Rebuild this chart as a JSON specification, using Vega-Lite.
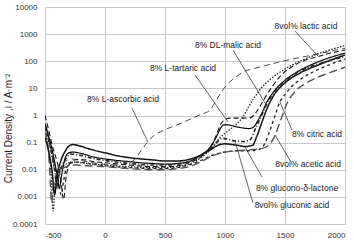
{
"$schema": "https://vega.github.io/schema/vega-lite/v6.json",
"width": 300, "height": 217,
"autosize": {"type": "none"},
"padding": {"left": 45, "top": 7, "right": 9, "bottom": 28},
"background": "white",
"config": {"font": "Liberation Sans", "view": {"stroke": "#a8a8a8", "strokeWidth": 1},
 "axis": {"gridColor": "#c8c8c8", "gridWidth": 1, "domain": false, "ticks": false, "labelFontSize": 8, "labelColor": "#333", "labelFont": "Liberation Sans"}},
"datasets": {
"curves": [
{"s":"asc","x":-500,"y":0.4},{"s":"asc","x":-470,"y":0.15},{"s":"asc","x":-440,"y":0.03},{"s":"asc","x":-415,"y":0.006},{"s":"asc","x":-400,"y":0.002},{"s":"asc","x":-385,"y":0.006},{"s":"asc","x":-360,"y":0.015},{"s":"asc","x":-320,"y":0.022},{"s":"asc","x":-280,"y":0.025},{"s":"asc","x":-200,"y":0.022},{"s":"asc","x":-100,"y":0.018},{"s":"asc","x":0,"y":0.016},{"s":"asc","x":100,"y":0.015},{"s":"asc","x":200,"y":0.018},{"s":"asc","x":250,"y":0.025},{"s":"asc","x":300,"y":0.05},{"s":"asc","x":350,"y":0.1},{"s":"asc","x":400,"y":0.17},{"s":"asc","x":500,"y":0.3},{"s":"asc","x":600,"y":0.45},{"s":"asc","x":700,"y":0.7},{"s":"asc","x":800,"y":1.1},{"s":"asc","x":875,"y":1.6},{"s":"asc","x":925,"y":3.5},{"s":"asc","x":975,"y":8},{"s":"asc","x":1025,"y":15},{"s":"asc","x":1100,"y":28},{"s":"asc","x":1150,"y":40},{"s":"asc","x":1250,"y":55},{"s":"asc","x":1350,"y":72},{"s":"asc","x":1500,"y":105},{"s":"asc","x":1700,"y":160},{"s":"asc","x":1850,"y":220},{"s":"asc","x":2000,"y":300},
{"s":"tar","x":-500,"y":1.0},{"s":"tar","x":-470,"y":0.3},{"s":"tar","x":-440,"y":0.08},{"s":"tar","x":-400,"y":0.02},{"s":"tar","x":-370,"y":0.005},{"s":"tar","x":-345,"y":0.0008},{"s":"tar","x":-325,"y":0.005},{"s":"tar","x":-300,"y":0.015},{"s":"tar","x":-270,"y":0.022},{"s":"tar","x":-200,"y":0.024},{"s":"tar","x":-100,"y":0.02},{"s":"tar","x":0,"y":0.018},{"s":"tar","x":200,"y":0.015},{"s":"tar","x":400,"y":0.013},{"s":"tar","x":500,"y":0.013},{"s":"tar","x":600,"y":0.014},{"s":"tar","x":700,"y":0.018},{"s":"tar","x":800,"y":0.03},{"s":"tar","x":880,"y":0.07},{"s":"tar","x":930,"y":0.2},{"s":"tar","x":960,"y":0.45},{"s":"tar","x":990,"y":0.65},{"s":"tar","x":1020,"y":0.78},{"s":"tar","x":1050,"y":0.8},{"s":"tar","x":1150,"y":0.8},{"s":"tar","x":1210,"y":0.82},{"s":"tar","x":1240,"y":1.0},{"s":"tar","x":1280,"y":1.8},{"s":"tar","x":1350,"y":6},{"s":"tar","x":1450,"y":25},{"s":"tar","x":1600,"y":80},{"s":"tar","x":1800,"y":160},{"s":"tar","x":2000,"y":260},
{"s":"mal","x":-500,"y":0.5},{"s":"mal","x":-460,"y":0.12},{"s":"mal","x":-420,"y":0.02},{"s":"mal","x":-395,"y":0.005},{"s":"mal","x":-380,"y":0.002},{"s":"mal","x":-365,"y":0.005},{"s":"mal","x":-340,"y":0.02},{"s":"mal","x":-310,"y":0.04},{"s":"mal","x":-270,"y":0.045},{"s":"mal","x":-200,"y":0.04},{"s":"mal","x":-100,"y":0.03},{"s":"mal","x":0,"y":0.025},{"s":"mal","x":100,"y":0.022},{"s":"mal","x":200,"y":0.02},{"s":"mal","x":300,"y":0.018},{"s":"mal","x":400,"y":0.017},{"s":"mal","x":500,"y":0.016},{"s":"mal","x":600,"y":0.017},{"s":"mal","x":700,"y":0.02},{"s":"mal","x":800,"y":0.035},{"s":"mal","x":880,"y":0.07},{"s":"mal","x":930,"y":0.17},{"s":"mal","x":965,"y":0.35},{"s":"mal","x":990,"y":0.45},{"s":"mal","x":1020,"y":0.45},{"s":"mal","x":1100,"y":0.38},{"s":"mal","x":1200,"y":0.33},{"s":"mal","x":1240,"y":0.38},{"s":"mal","x":1270,"y":0.6},{"s":"mal","x":1310,"y":1.3},{"s":"mal","x":1350,"y":3.2},{"s":"mal","x":1400,"y":7},{"s":"mal","x":1500,"y":20},{"s":"mal","x":1600,"y":40},{"s":"mal","x":1750,"y":85},{"s":"mal","x":2000,"y":200},
{"s":"lac","x":-500,"y":0.3},{"s":"lac","x":-470,"y":0.05},{"s":"lac","x":-450,"y":0.008},{"s":"lac","x":-432,"y":0.0003},{"s":"lac","x":-415,"y":0.003},{"s":"lac","x":-390,"y":0.008},{"s":"lac","x":-350,"y":0.013},{"s":"lac","x":-300,"y":0.018},{"s":"lac","x":-250,"y":0.019},{"s":"lac","x":-150,"y":0.017},{"s":"lac","x":0,"y":0.015},{"s":"lac","x":200,"y":0.013},{"s":"lac","x":400,"y":0.012},{"s":"lac","x":500,"y":0.012},{"s":"lac","x":600,"y":0.013},{"s":"lac","x":700,"y":0.016},{"s":"lac","x":800,"y":0.028},{"s":"lac","x":900,"y":0.07},{"s":"lac","x":950,"y":0.14},{"s":"lac","x":1000,"y":0.22},{"s":"lac","x":1050,"y":0.33},{"s":"lac","x":1100,"y":0.5},{"s":"lac","x":1150,"y":0.9},{"s":"lac","x":1200,"y":2.2},{"s":"lac","x":1250,"y":5},{"s":"lac","x":1300,"y":10},{"s":"lac","x":1380,"y":22},{"s":"lac","x":1460,"y":40},{"s":"lac","x":1600,"y":90},{"s":"lac","x":1750,"y":170},{"s":"lac","x":2000,"y":380},
{"s":"cit","x":-500,"y":0.35},{"s":"cit","x":-460,"y":0.08},{"s":"cit","x":-420,"y":0.015},{"s":"cit","x":-390,"y":0.004},{"s":"cit","x":-365,"y":0.0012},{"s":"cit","x":-345,"y":0.004},{"s":"cit","x":-320,"y":0.012},{"s":"cit","x":-280,"y":0.018},{"s":"cit","x":-220,"y":0.019},{"s":"cit","x":-100,"y":0.016},{"s":"cit","x":0,"y":0.014},{"s":"cit","x":200,"y":0.012},{"s":"cit","x":400,"y":0.011},{"s":"cit","x":500,"y":0.011},{"s":"cit","x":600,"y":0.012},{"s":"cit","x":700,"y":0.015},{"s":"cit","x":800,"y":0.022},{"s":"cit","x":900,"y":0.035},{"s":"cit","x":1000,"y":0.045},{"s":"cit","x":1100,"y":0.05},{"s":"cit","x":1200,"y":0.05},{"s":"cit","x":1280,"y":0.055},{"s":"cit","x":1330,"y":0.09},{"s":"cit","x":1370,"y":0.25},{"s":"cit","x":1410,"y":0.8},{"s":"cit","x":1458,"y":3.2},{"s":"cit","x":1500,"y":6},{"s":"cit","x":1550,"y":11},{"s":"cit","x":1650,"y":25},{"s":"cit","x":1800,"y":55},{"s":"cit","x":2000,"y":120},
{"s":"ace","x":-500,"y":0.25},{"s":"ace","x":-470,"y":0.04},{"s":"ace","x":-455,"y":0.003},{"s":"ace","x":-445,"y":0.0006},{"s":"ace","x":-432,"y":0.002},{"s":"ace","x":-410,"y":0.006},{"s":"ace","x":-370,"y":0.01},{"s":"ace","x":-320,"y":0.013},{"s":"ace","x":-250,"y":0.015},{"s":"ace","x":-150,"y":0.014},{"s":"ace","x":0,"y":0.013},{"s":"ace","x":200,"y":0.011},{"s":"ace","x":400,"y":0.01},{"s":"ace","x":500,"y":0.01},{"s":"ace","x":600,"y":0.011},{"s":"ace","x":700,"y":0.013},{"s":"ace","x":800,"y":0.02},{"s":"ace","x":900,"y":0.033},{"s":"ace","x":1000,"y":0.045},{"s":"ace","x":1100,"y":0.05},{"s":"ace","x":1200,"y":0.055},{"s":"ace","x":1300,"y":0.06},{"s":"ace","x":1375,"y":0.09},{"s":"ace","x":1420,"y":0.2},{"s":"ace","x":1470,"y":0.8},{"s":"ace","x":1520,"y":3},{"s":"ace","x":1600,"y":9},{"s":"ace","x":1700,"y":18},{"s":"ace","x":1850,"y":35},{"s":"ace","x":2000,"y":60},
{"s":"gdl","x":-500,"y":0.15},{"s":"gdl","x":-470,"y":0.05},{"s":"gdl","x":-440,"y":0.008},{"s":"gdl","x":-420,"y":0.0012},{"s":"gdl","x":-400,"y":0.006},{"s":"gdl","x":-370,"y":0.02},{"s":"gdl","x":-330,"y":0.05},{"s":"gdl","x":-300,"y":0.075},{"s":"gdl","x":-270,"y":0.085},{"s":"gdl","x":-230,"y":0.08},{"s":"gdl","x":-150,"y":0.062},{"s":"gdl","x":-50,"y":0.047},{"s":"gdl","x":0,"y":0.042},{"s":"gdl","x":100,"y":0.033},{"s":"gdl","x":200,"y":0.028},{"s":"gdl","x":300,"y":0.025},{"s":"gdl","x":400,"y":0.023},{"s":"gdl","x":500,"y":0.021},{"s":"gdl","x":600,"y":0.021},{"s":"gdl","x":700,"y":0.024},{"s":"gdl","x":800,"y":0.035},{"s":"gdl","x":880,"y":0.055},{"s":"gdl","x":940,"y":0.08},{"s":"gdl","x":1000,"y":0.09},{"s":"gdl","x":1100,"y":0.08},{"s":"gdl","x":1170,"y":0.072},{"s":"gdl","x":1230,"y":0.08},{"s":"gdl","x":1260,"y":0.15},{"s":"gdl","x":1300,"y":0.45},{"s":"gdl","x":1350,"y":1.8},{"s":"gdl","x":1400,"y":5},{"s":"gdl","x":1500,"y":16},{"s":"gdl","x":1600,"y":32},{"s":"gdl","x":1800,"y":80},{"s":"gdl","x":2000,"y":170},
{"s":"glu","x":-500,"y":0.5},{"s":"glu","x":-470,"y":0.15},{"s":"glu","x":-440,"y":0.03},{"s":"glu","x":-415,"y":0.008},{"s":"glu","x":-400,"y":0.0025},{"s":"glu","x":-385,"y":0.006},{"s":"glu","x":-355,"y":0.015},{"s":"glu","x":-320,"y":0.028},{"s":"glu","x":-285,"y":0.038},{"s":"glu","x":-230,"y":0.036},{"s":"glu","x":-100,"y":0.026},{"s":"glu","x":0,"y":0.022},{"s":"glu","x":200,"y":0.017},{"s":"glu","x":400,"y":0.015},{"s":"glu","x":500,"y":0.015},{"s":"glu","x":600,"y":0.016},{"s":"glu","x":700,"y":0.02},{"s":"glu","x":800,"y":0.035},{"s":"glu","x":880,"y":0.06},{"s":"glu","x":930,"y":0.1},{"s":"glu","x":970,"y":0.14},{"s":"glu","x":1000,"y":0.14},{"s":"glu","x":1083,"y":0.115},{"s":"glu","x":1160,"y":0.11},{"s":"glu","x":1210,"y":0.13},{"s":"glu","x":1250,"y":0.3},{"s":"glu","x":1300,"y":0.9},{"s":"glu","x":1350,"y":2.8},{"s":"glu","x":1400,"y":6.5},{"s":"glu","x":1500,"y":19},{"s":"glu","x":1600,"y":38},{"s":"glu","x":1800,"y":85},{"s":"glu","x":2000,"y":150}
],
"notes": [
{"label":"8% L-ascorbic acid","lx":150,"ly":4.0,"x1":225,"y1":1.86,"x2":358,"y2":0.105},
{"label":"8% L-tartaric acid","lx":650,"ly":56,"x1":750,"y1":31,"x2":1025,"y2":0.58},
{"label":"8% DL-malic acid","lx":1025,"ly":400,"x1":1067,"y1":257,"x2":1333,"y2":2.9},
{"label":"8vol% lactic acid","lx":1675,"ly":2000,"x1":1583,"y1":1300,"x2":1775,"y2":155},
{"label":"8% citric acid","lx":1767,"ly":0.2,"x1":1558,"y1":0.29,"x2":1458,"y2":3.2},
{"label":"8vol% acetic acid","lx":1692,"ly":0.016,"x1":1542,"y1":0.022,"x2":1417,"y2":0.19},
{"label":"8% glucono-δ-lactone","lx":1600,"ly":0.0021,"x1":1308,"y1":0.0054,"x2":1167,"y2":0.068},
{"label":"8vol% gluconic acid","lx":1558,"ly":0.00049,"x1":1233,"y1":0.00059,"x2":1083,"y2":0.115}
]
},
"encoding": {
 "x": {"type": "quantitative", "scale": {"domain": [-500, 2000], "nice": false, "zero": false},
   "axis": {"title": null, "values": [-500, 0, 500, 1000, 1500, 2000], "labelExpr": "'' + datum.value", "labelPadding": 7, "grid": true}},
 "y": {"type": "quantitative", "scale": {"type": "log", "domain": [0.0001, 10000], "nice": false},
   "axis": {"title": "Current Density ,i / A·m⁻²", "titleFontSize": 10, "titleFontWeight": "normal", "titleColor": "#222", "titleX": -32, "titleY": 121,
    "values": [0.0001, 0.001, 0.01, 0.1, 1, 10, 100, 1000, 10000], "format": "~g", "labelPadding": 8, "grid": true}}
},
"layer": [
{"data": {"name": "curves"},
 "mark": {"type": "line", "interpolate": "monotone", "clip": true},
 "encoding": {
  "x": {"field": "x"},
  "y": {"field": "y"},
  "color": {"field": "s", "type": "nominal", "legend": null,
   "scale": {"domain": ["asc","tar","mal","lac","cit","ace","gdl","glu"], "range": ["#4a4a4a","#111","#000","#222","#222","#555","#111","#222"]}},
  "strokeDash": {"field": "s", "type": "nominal", "legend": null,
   "scale": {"domain": ["asc","tar","mal","lac","cit","ace","gdl","glu"], "range": [[6,4],[5,3],[1,0],[1.5,1.5],[3,3],[8,4],[1,0],[4,2,1,2]]}},
  "strokeWidth": {"field": "s", "type": "nominal", "legend": null,
   "scale": {"domain": ["asc","tar","mal","lac","cit","ace","gdl","glu"], "range": [1,1.6,1.8,0.9,1,1,0.9,0.9]}}
 }},
{"data": {"name": "notes"},
 "mark": {"type": "rule", "color": "#222", "strokeWidth": 0.7},
 "encoding": {
  "x": {"field": "x1"},
  "y": {"field": "y1"},
  "x2": {"field": "x2"}, "y2": {"field": "y2"}
 }},
{"data": {"name": "notes"},
 "mark": {"type": "text", "fontSize": 8.5, "color": "#222", "align": "center", "baseline": "middle", "font": "Liberation Sans"},
 "encoding": {
  "x": {"field": "lx"},
  "y": {"field": "ly"},
  "text": {"field": "label"}
 }}
]
}
